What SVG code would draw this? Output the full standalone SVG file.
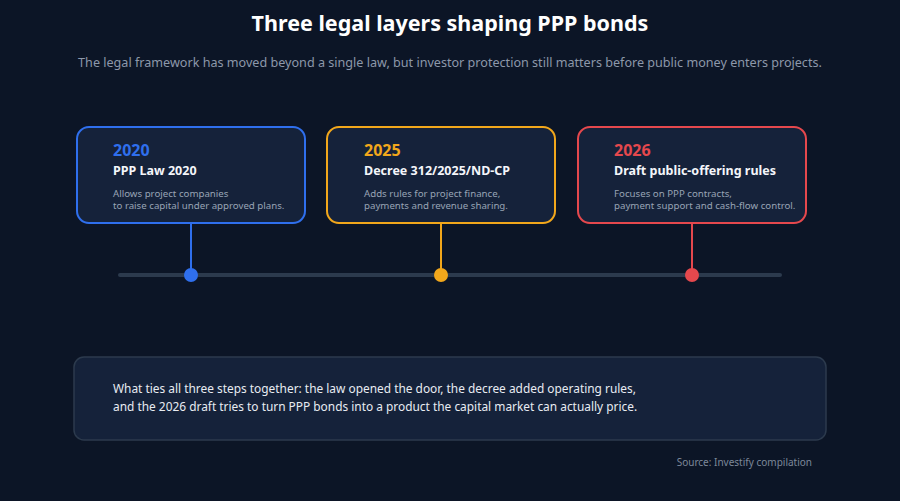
<svg xmlns="http://www.w3.org/2000/svg" width="900" height="501" viewBox="0 0 900 501">
<style>
text{font-family:"Noto Sans","Open Sans",sans-serif}
.card{fill:#15223a;stroke-width:2}
.yr{font-size:16px;font-weight:700}
.ttl{font-size:12.5px;font-weight:700;fill:#f4f6fa}
.desc{font-size:9.7px;fill:#98a4b5}
</style>
<rect width="900" height="501" fill="#0c1526"/>
<text x="450" y="31" text-anchor="middle" font-size="21.5" font-weight="700" fill="#ffffff">Three legal layers shaping PPP bonds</text>
<text x="450" y="67" text-anchor="middle" font-size="12.6" fill="#8d98aa">The legal framework has moved beyond a single law, but investor protection still matters before public money enters projects.</text>
<g id="connectors">
<line x1="120" y1="275" x2="780" y2="275" stroke="#2c3a4d" stroke-width="4" stroke-linecap="round"/>
<line x1="191" y1="212" x2="191" y2="275" stroke="#2f6fed" stroke-width="2"/>
<line x1="441" y1="212" x2="441" y2="275" stroke="#f2a71b" stroke-width="2"/>
<line x1="692" y1="212" x2="692" y2="275" stroke="#e5484d" stroke-width="2"/>
<circle cx="191" cy="275" r="7" fill="#2f6fed"/>
<circle cx="441" cy="275" r="7" fill="#f2a71b"/>
<circle cx="692" cy="275" r="7" fill="#e5484d"/>
</g>
<g id="n2020">
<rect class="card" x="77" y="127" width="228" height="96" rx="12" stroke="#2f6fed"/>
<text class="yr" x="113" y="156" fill="#2f6fed">2020</text>
<text class="ttl" x="113" y="175">PPP Law 2020</text>
<text class="desc" x="113" y="197">Allows project companies</text>
<text class="desc" x="113" y="209">to raise capital under approved plans.</text>
</g>
<g id="n2025">
<rect class="card" x="327" y="127" width="228" height="96" rx="12" stroke="#f2a71b"/>
<text class="yr" x="364" y="156" fill="#f2a71b">2025</text>
<text class="ttl" x="364" y="175">Decree 312/2025/ND-CP</text>
<text class="desc" x="364" y="197">Adds rules for project finance,</text>
<text class="desc" x="364" y="209">payments and revenue sharing.</text>
</g>
<g id="n2026">
<rect class="card" x="578" y="127" width="228" height="96" rx="12" stroke="#e5484d"/>
<text class="yr" x="614" y="156" fill="#e5484d">2026</text>
<text class="ttl" x="614" y="175">Draft public-offering rules</text>
<text class="desc" x="614" y="197">Focuses on PPP contracts,</text>
<text class="desc" x="614" y="209">payment support and cash-flow control.</text>
</g>
<g id="summary">
<rect x="74" y="357" width="752" height="83" rx="10" fill="#15223a" stroke="#2c3a4d" stroke-width="1.5"/>
<text x="113" y="393" font-size="11.9" fill="#e8ecf2">What ties all three steps together: the law opened the door, the decree added operating rules,</text>
<text x="113" y="411" font-size="11.9" fill="#e8ecf2">and the 2026 draft tries to turn PPP bonds into a product the capital market can actually price.</text>
</g>
<text x="812" y="466" text-anchor="end" font-size="10" fill="#7d889a">Source: Investify compilation</text>
</svg>
